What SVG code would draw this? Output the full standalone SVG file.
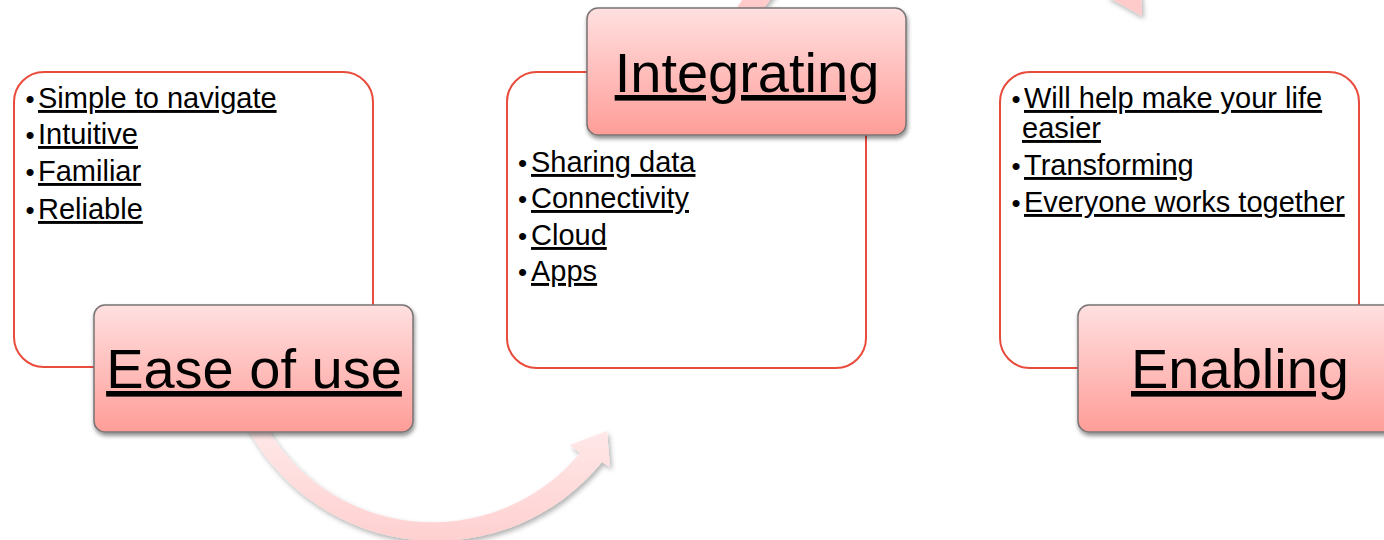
<svg xmlns="http://www.w3.org/2000/svg" width="1384" height="540" viewBox="0 0 1384 540">
<defs>
<linearGradient id="lblGrad" x1="0" y1="0" x2="0" y2="1">
<stop offset="0" stop-color="#ffe0e0"/>
<stop offset="1" stop-color="#ff9d98"/>
</linearGradient>
<linearGradient id="arcGradB" gradientUnits="userSpaceOnUse" x1="0" y1="420" x2="0" y2="545">
<stop offset="0" stop-color="#ffeaea"/>
<stop offset="1" stop-color="#ffcfcf"/>
</linearGradient>
<filter id="lblShadow" x="-10%" y="-10%" width="125%" height="130%">
<feDropShadow dx="1" dy="3" stdDeviation="2" flood-color="#000" flood-opacity="0.45"/>
</filter>
<filter id="arcShadow" x="-10%" y="-10%" width="125%" height="130%">
<feDropShadow dx="2" dy="3" stdDeviation="2.5" flood-color="#000" flood-opacity="0.3"/>
</filter>
<style>
.box{fill:#fff;stroke:#e94b3c;stroke-width:2}
.lbl{fill:url(#lblGrad);stroke:#7a7474;stroke-width:1.5;filter:url(#lblShadow)}
.big{font-family:"Liberation Sans",Arial,sans-serif;font-size:56px;fill:#000;text-anchor:middle;text-decoration:underline}
.it{font-family:"Liberation Sans",Arial,sans-serif;font-size:29px;fill:#000;text-decoration:underline}
.bul{font-family:"Liberation Sans",Arial,sans-serif;font-size:26px;fill:#000}
</style>
</defs>
<rect width="1384" height="540" fill="#fff"/>
<g id="connectors">
<path id="arc-ease-integrating" fill="url(#arcGradB)" filter="url(#arcShadow)" d="M247.1,427.5 A214,214 0 0 0 602,462 L610,467 L607,431 L570,445 L580,453 A192,192 0 0 1 262,419 Z"/>
<path id="arc-integrating-enabling" fill="#ffcaca" filter="url(#arcShadow)" d="M715.5,52.6 A241,241 0 0 1 1130,-17 L1140,-22 L1142,16 L1106,-4 L1114,-6 A222,222 0 0 0 736.2,60.1 Z"/>
</g>
<g id="node-ease">
<rect class="box" x="14" y="72" width="359" height="295" rx="30"/>
<text class="bul" x="25.5" y="108">•</text><text class="it" x="38" y="108">Simple to navigate</text>
<text class="bul" x="25.5" y="144">•</text><text class="it" x="38" y="144">Intuitive</text>
<text class="bul" x="25.5" y="181">•</text><text class="it" x="38" y="181">Familiar</text>
<text class="bul" x="25.5" y="219">•</text><text class="it" x="38" y="219">Reliable</text>
<rect class="lbl" x="94" y="305" width="319" height="127" rx="11"/>
<text class="big" x="254" y="388">Ease of use</text>
</g>
<g id="node-integrating">
<rect class="box" x="507" y="72" width="359" height="296" rx="30"/>
<text class="bul" x="518" y="172">•</text><text class="it" x="531" y="172">Sharing data</text>
<text class="bul" x="518" y="208">•</text><text class="it" x="531" y="208">Connectivity</text>
<text class="bul" x="518" y="245">•</text><text class="it" x="531" y="245">Cloud</text>
<text class="bul" x="518" y="281">•</text><text class="it" x="531" y="281">Apps</text>
<rect class="lbl" x="587" y="8" width="319" height="127" rx="11"/>
<text class="big" x="747" y="92">Integrating</text>
</g>
<g id="node-enabling">
<rect class="box" x="1000" y="72" width="359" height="296" rx="30"/>
<text class="bul" x="1011.5" y="108">•</text><text class="it" x="1024" y="108">Will help make your life</text>
<text class="it" x="1022" y="138">easier</text>
<text class="bul" x="1011.5" y="175">•</text><text class="it" x="1024" y="175">Transforming</text>
<text class="bul" x="1011.5" y="212">•</text><text class="it" x="1024" y="212">Everyone works together</text>
<rect class="lbl" x="1078" y="305" width="319" height="127" rx="11"/>
<text class="big" x="1240" y="388">Enabling</text>
</g>
</svg>
